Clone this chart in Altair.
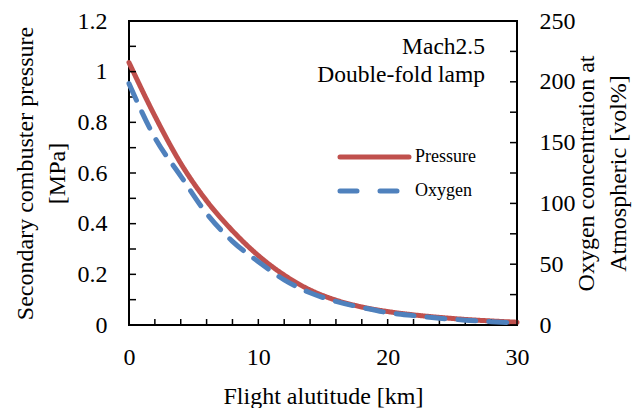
import altair as alt
import pandas as pd

# ---- data ----
altitude = [0, 2, 4, 6, 8, 10, 12, 14, 16, 18, 20, 22, 24, 26, 28, 30]
pressure = [1.036, 0.825, 0.638, 0.49, 0.372, 0.274, 0.197, 0.138, 0.098, 0.071,
            0.053, 0.040, 0.030, 0.022, 0.016, 0.011]
oxygen = [198.5, 154, 122.5, 91.7, 68.8, 52.1, 37.1, 26.5, 19.4, 14.4,
          10.2, 7.7, 5.6, 4.0, 2.7, 1.7]
series_names = ["Pressure", "Oxygen"]
series_colors = ["#C0504D", "#4F81BD"]

x_labels = [0, 10, 20, 30]
x_minor = [0, 2, 4, 6, 8, 10, 12, 14, 16, 18, 20, 22, 24, 26, 28, 30]
left_labels = [0, 0.2, 0.4, 0.6, 0.8, 1.0, 1.2]
left_minor = [0, 0.1, 0.2, 0.3, 0.4, 0.5, 0.6, 0.7, 0.8, 0.9, 1.0, 1.1, 1.2]
right_labels = [0, 50, 100, 150, 200, 250]
right_minor = [0, 25, 50, 75, 100, 125, 150, 175, 200, 225, 250]
annotation = ["Mach2.5", "Double-fold lamp"]

FONT = "Liberation Serif"
W, H = 388, 304

df = pd.DataFrame({
    "altitude": altitude * 2,
    "value": pressure + oxygen,
    "series": ["Pressure"] * len(altitude) + ["Oxygen"] * len(altitude),
})

xscale = alt.Scale(domain=[0, 30], nice=False)
lscale = alt.Scale(domain=[0, 1.2], nice=False)
rscale = alt.Scale(domain=[0, 250], nice=False)
cscale = alt.Scale(domain=series_names, range=series_colors)
dscale = alt.Scale(domain=series_names, range=[[1, 0], [18, 13]])

x_axis = alt.Axis(values=x_labels, title="Flight alutitude [km]",
                  ticks=False, domain=False, grid=False, labelFlush=False,
                  labelPadding=20, titlePadding=15)
l_axis = alt.Axis(values=left_labels, format="~g",
                  title=["Secondary combuster pressure", "[MPa]"],
                  ticks=False, domain=False, grid=False, labelFlush=False,
                  labelPadding=22, titlePadding=8)
r_axis = alt.Axis(values=right_labels, orient="right",
                  title=["Oxygen concentration at", "Atmospheric [vol%]"],
                  titleAngle=270,
                  ticks=False, domain=False, grid=False, labelFlush=False,
                  labelPadding=22, titlePadding=-9)

color_enc = alt.Color("series:N", scale=cscale, legend=None)
dash_enc = alt.StrokeDash("series:N", scale=dscale, legend=None)

base = alt.Chart(df)

p_line = base.transform_filter(alt.datum.series == "Pressure").mark_line(
    strokeWidth=5, strokeCap="round", interpolate="monotone"
).encode(
    x=alt.X("altitude:Q", scale=xscale, axis=x_axis),
    y=alt.Y("value:Q", scale=lscale, axis=l_axis),
    color=color_enc, strokeDash=dash_enc,
)

l_ticks = alt.Chart(pd.DataFrame({"t": left_minor})).mark_rule(
    color="black", strokeWidth=1.5
).encode(
    y=alt.Y("t:Q", scale=lscale, axis=l_axis),
    x=alt.value(0), x2=alt.value(7),
)

x_ticks = alt.Chart(pd.DataFrame({"t": x_minor})).mark_rule(
    color="black", strokeWidth=1.5
).encode(
    x=alt.X("t:Q", scale=xscale, axis=x_axis),
    y=alt.value(H), y2=alt.value(H - 6),
)

legend_layers = []
for i, name in enumerate(series_names):
    ld = pd.DataFrame({"series": [name]})
    ly = 136 + 34 * i
    enc = dict(x=alt.value(211), x2=alt.value(280), y=alt.value(ly),
               color=color_enc,
               strokeDash=dash_enc if i == 0 else alt.value([17, 23]))
    legend_layers.append(
        alt.Chart(ld).mark_rule(strokeWidth=5, strokeCap="round").encode(**enc)
    )
    legend_layers.append(
        alt.Chart(ld).mark_text(align="left", baseline="middle", font=FONT,
                                fontSize=18, color="black").encode(
            x=alt.value(286), y=alt.value(ly), text="series:N"
        )
    )

note = alt.Chart(pd.DataFrame({"a": [0]})).mark_text(
    text=annotation, align="right", baseline="middle", font=FONT,
    fontSize=23.5, lineHeight=28, color="black"
).encode(x=alt.value(356), y=alt.value(26))

left = alt.layer(p_line, l_ticks, x_ticks, note, *legend_layers)

o_line = base.transform_filter(alt.datum.series == "Oxygen").mark_line(
    strokeWidth=5, strokeCap="round", interpolate="monotone"
).encode(
    x=alt.X("altitude:Q", scale=xscale, axis=x_axis),
    y=alt.Y("value:Q", scale=rscale, axis=r_axis),
    color=color_enc, strokeDash=dash_enc,
)

r_ticks = alt.Chart(pd.DataFrame({"t": right_minor})).mark_rule(
    color="black", strokeWidth=1.5
).encode(
    y=alt.Y("t:Q", scale=rscale, axis=r_axis),
    x=alt.value(W - 7), x2=alt.value(W),
)

right = alt.layer(o_line, r_ticks)

chart = alt.layer(left, right).resolve_scale(y="independent").properties(
    width=W, height=H,
    autosize=alt.AutoSizeParams(type="none"),
    padding={"left": 121, "top": 13, "right": 116, "bottom": 83},
    background="white",
).configure_view(
    stroke="black", strokeWidth=2
).configure_axis(
    labelFont=FONT, labelFontSize=24, labelColor="black",
    titleFont=FONT, titleFontSize=24, titleColor="black",
    titleFontWeight="normal", titleLineHeight=32,
)

chart.save("out.html", embed_options={"renderer": "svg", "actions": False})
